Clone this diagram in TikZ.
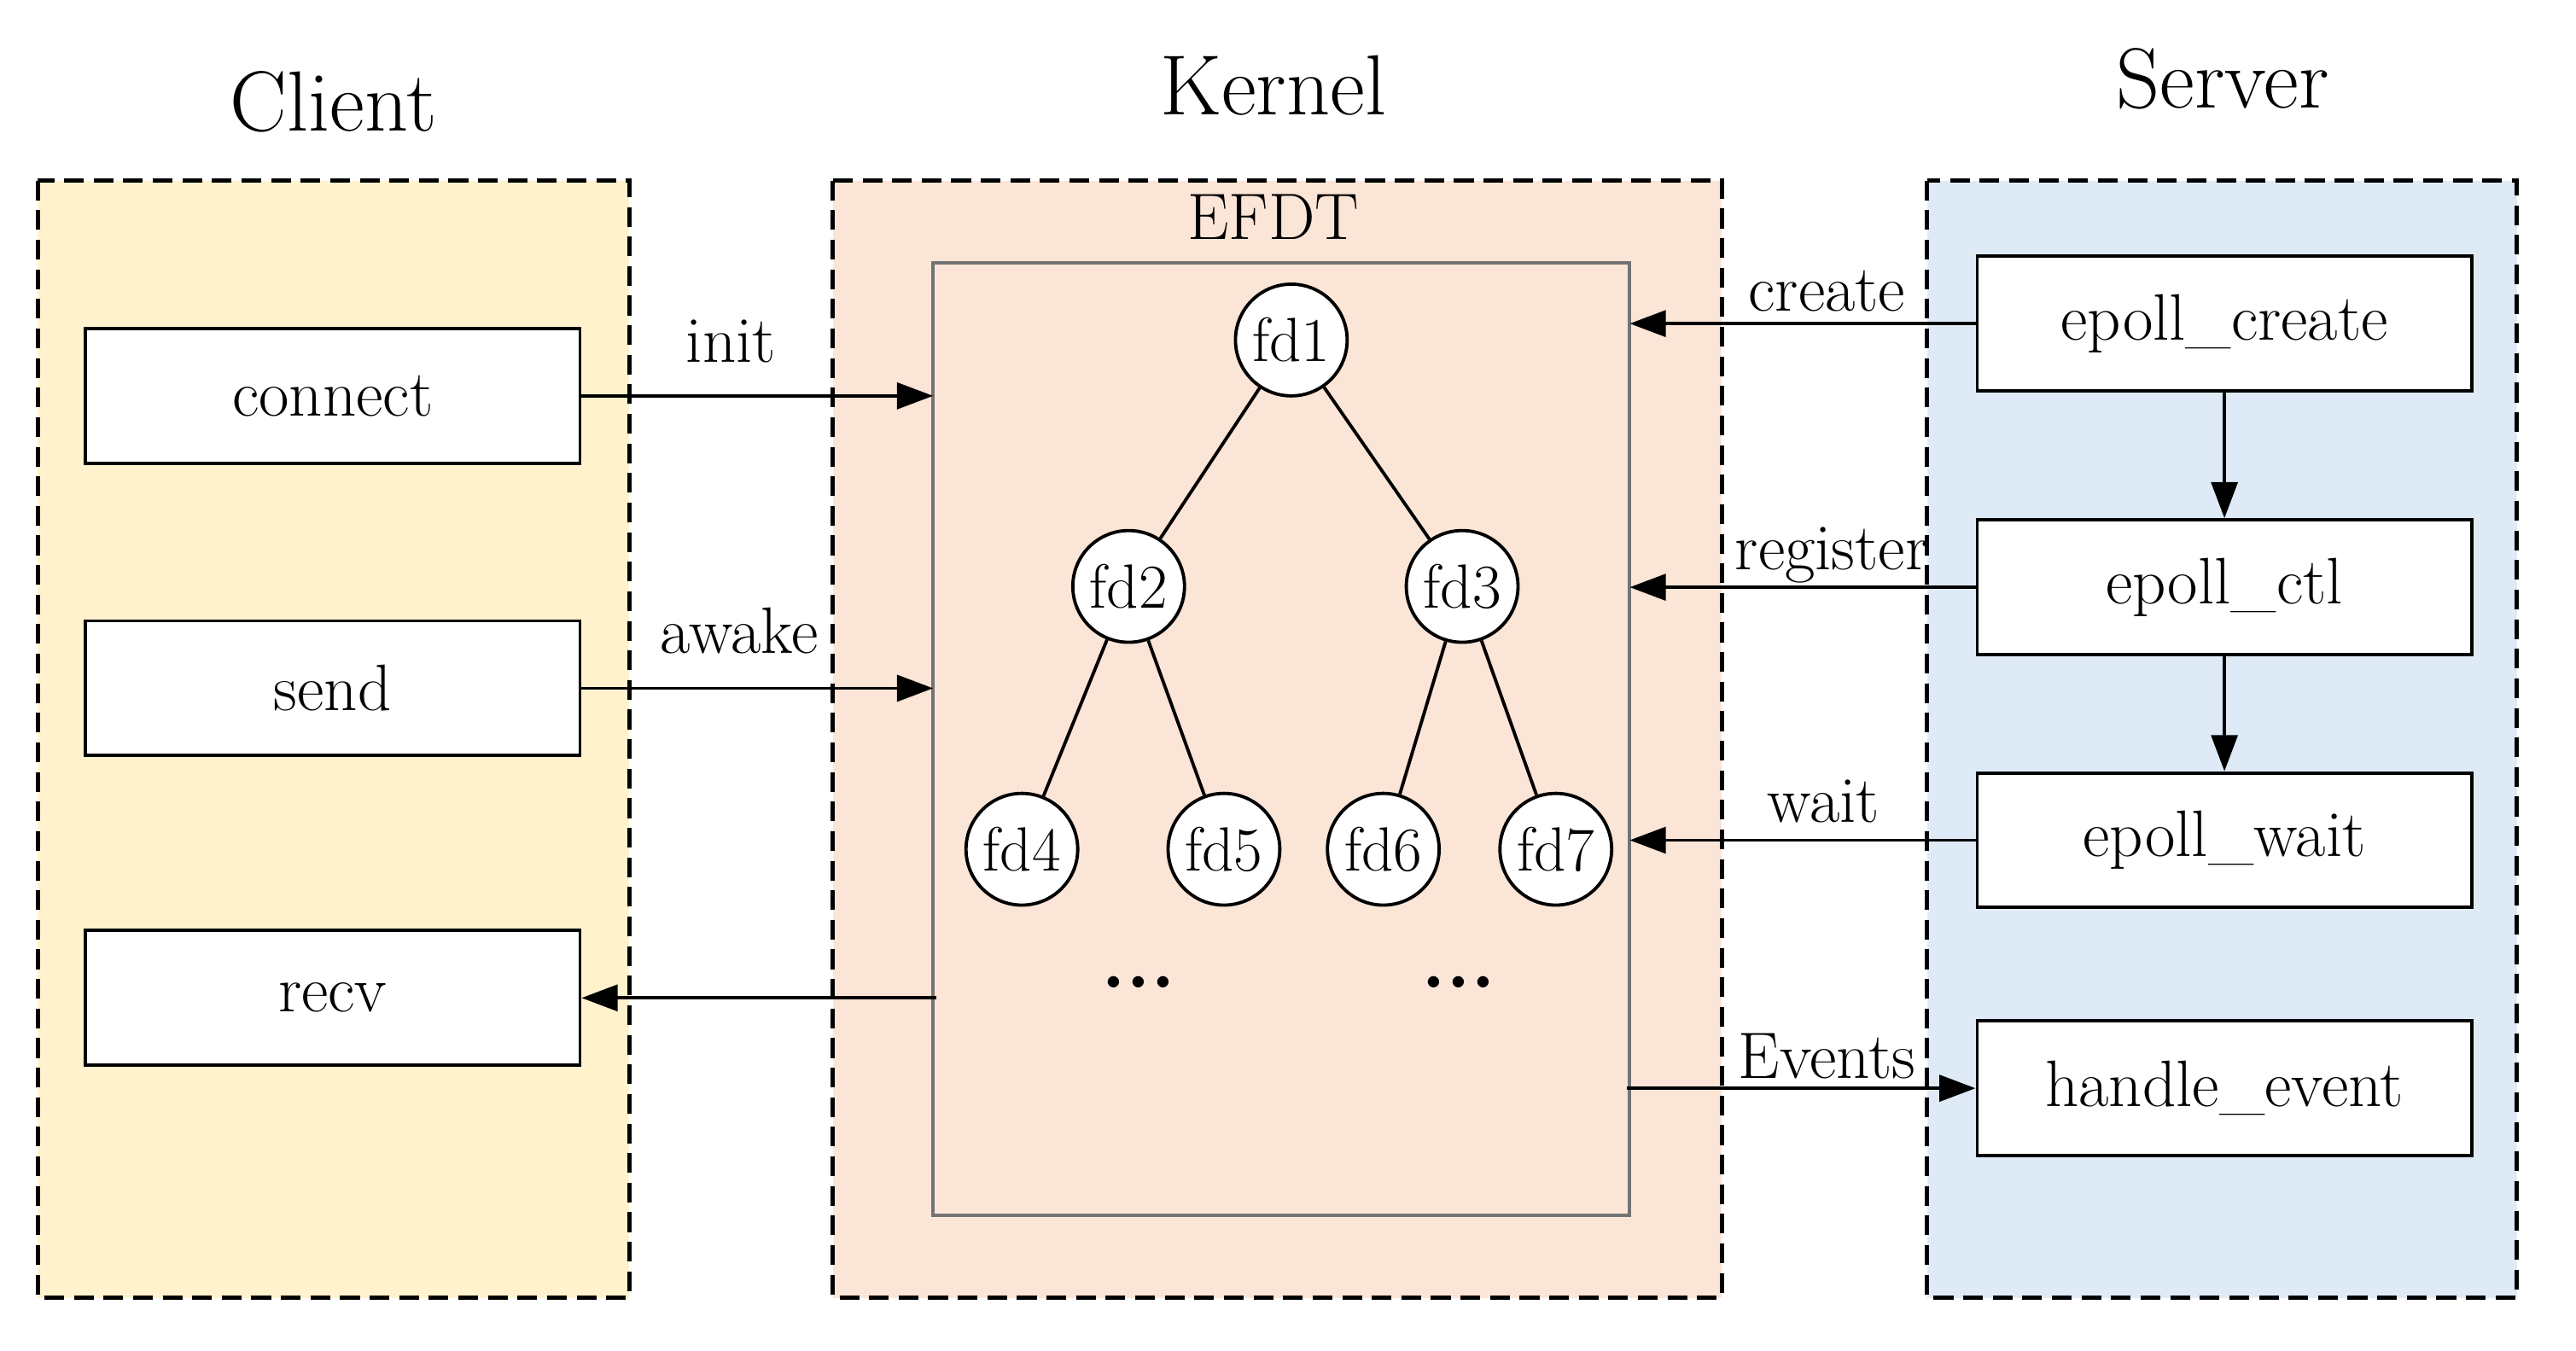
\documentclass[tikz,border=0pt]{standalone}
\usetikzlibrary{arrows.meta}
\definecolor{cy}{HTML}{FFF2CC}
\definecolor{ck}{HTML}{FBE5D6}
\definecolor{cs}{HTML}{DEEBF7}
\begin{document}
\begin{tikzpicture}[x=0.5pt,y=-0.5pt,
  panel/.style={draw,dashed,line width=1.3pt,dash pattern=on 6pt off 3pt},
  box/.style={draw,line width=1pt,fill=white,minimum width=150.5pt,minimum height=41pt,inner sep=0pt,font=\fontsize{20}{22}\selectfont},
  fd/.style={circle,draw,line width=1pt,fill=white,minimum size=34pt,inner sep=0pt,font=\fontsize{19}{21}\selectfont},
  lab/.style={font=\fontsize{20}{22}\selectfont},
  title/.style={font=\fontsize{26}{28}\selectfont},
  arr/.style={line width=1pt,-{Triangle[length=11pt,width=8pt]}}]
\useasboundingbox (0,0) rectangle (1568,822);
\fill[white] (0,0) rectangle (1568,822);
\draw[panel,fill=cy] (23,110) rectangle (383,790);
\draw[panel,fill=ck] (507,110) rectangle (1048,790);
\draw[panel,fill=cs] (1173,110) rectangle (1532,790);
\node[title] (tc) at (203,62) {Client};
\node[title] (tk) at (775,52) {Kernel};
\node[title] (ts) at (1353,48) {Server};
\node[draw=gray!90!black,line width=1pt,minimum width=212pt,minimum height=290pt,inner sep=0pt] (efdt) at (780,450) {};
\node[lab] (el) at (775,132) {EFDT};
\node[box] (connect) at (202.5,241) {connect};
\node[box] (send) at (202.5,419) {send};
\node[box] (recv) at (202.5,607.5) {recv};
\node[box] (ec) at (1354,197) {epoll\_create};
\node[box] (ectl) at (1354,357.5) {epoll\_ctl};
\node[box] (ew) at (1354,511.5) {epoll\_wait};
\node[box] (he) at (1354,662.5) {handle\_event};
\node[fd] (f1) at (786,207) {fd1};
\node[fd] (f2) at (687,357) {fd2};
\node[fd] (f3) at (890,357) {fd3};
\node[fd] (f4) at (622,517) {fd4};
\node[fd] (f5) at (745,517) {fd5};
\node[fd] (f6) at (842,517) {fd6};
\node[fd] (f7) at (947,517) {fd7};
\draw[line width=1pt] (f1)--(f2) (f1)--(f3) (f2)--(f4) (f2)--(f5) (f3)--(f6) (f3)--(f7);
\node[font=\fontsize{24}{26}\selectfont\bfseries] (d1) at (693,598) {...};
\node[font=\fontsize{24}{26}\selectfont\bfseries] (d2) at (888,598) {...};
\coordinate (a1) at (568,241);
\coordinate (a2) at (568,419);
\coordinate (a3) at (570,607.5);
\coordinate (b1) at (992,197);
\coordinate (b2) at (992,357.5);
\coordinate (b3) at (992,511.5);
\coordinate (b4) at (990,662.5);
\draw[arr] (connect.east) -- (a1);
\draw[arr] (send.east) -- (a2);
\draw[arr] (a3) -- (recv.east);
\draw[arr] (ec.west) -- (b1);
\draw[arr] (ectl.west) -- (b2);
\draw[arr] (ew.west) -- (b3);
\draw[arr] (b4) -- (he.west);
\draw[arr] (ec) -- (ectl);
\draw[arr] (ectl) -- (ew);
\node[lab] (l1) at (445,208) {init};
\node[lab] (l2) at (450,384) {awake};
\node[lab] (l3) at (1112,177) {create};
\node[lab] (l4) at (1115,338) {register};
\node[lab] (l5) at (1110,488) {wait};
\node[lab] (l6) at (1112,643) {Events};
\end{tikzpicture}
\end{document}
